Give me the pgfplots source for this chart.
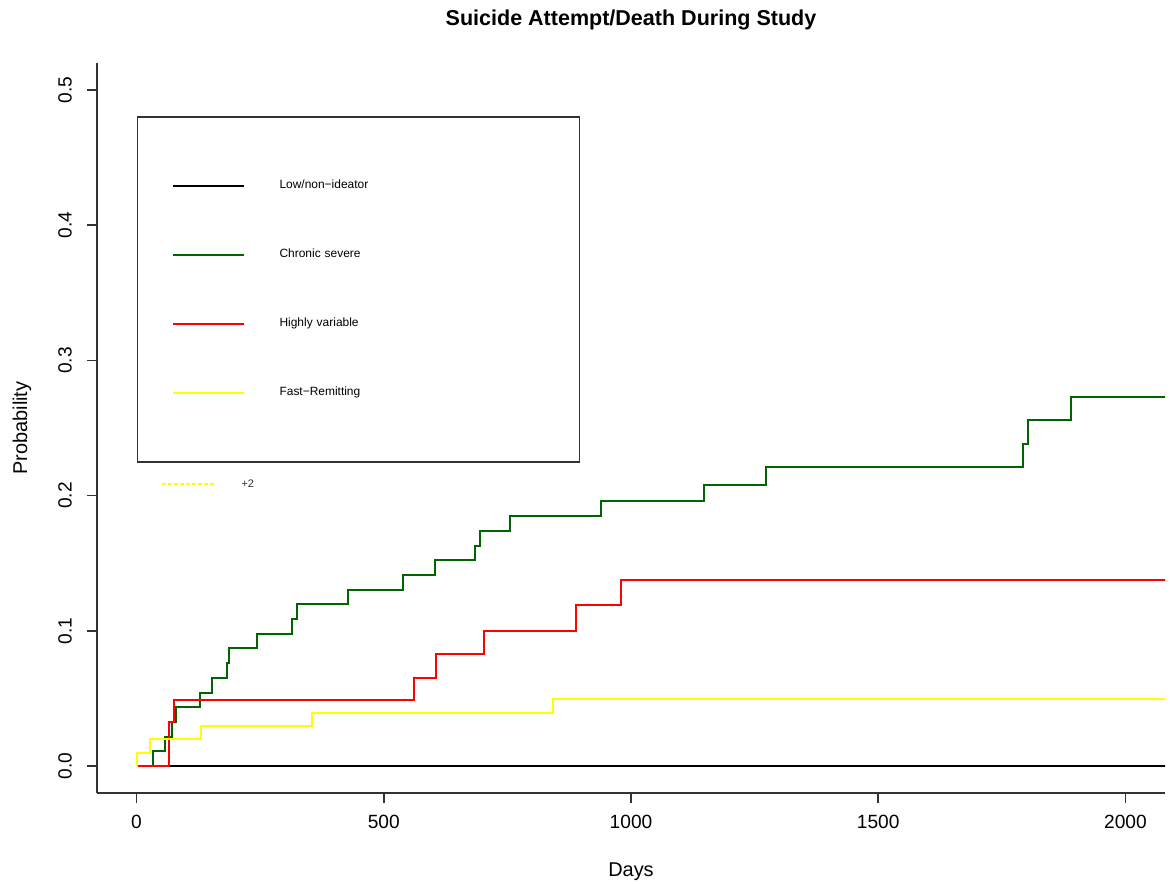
\documentclass[border=0pt]{standalone}
\usepackage{fontspec}
\setmainfont{Liberation Sans}
\usepackage{pgfplots}
\pgfplotsset{compat=1.18}
\definecolor{dkgreen}{HTML}{006400}
\definecolor{ryellow}{HTML}{FFFF00}
\definecolor{axgray}{HTML}{333333}

\begin{document}
\begin{tikzpicture}
\begin{axis}[
  scale only axis, width=534bp, height=365bp,
  xmin=-80, xmax=2080, ymin=-0.02, ymax=0.52,
  axis x line*=bottom, axis y line*=left,
  axis line style={axgray, line width=0.8bp, -},
  tick align=outside,
  tick style={axgray, line width=0.8bp},
  major tick length=5bp,
  xtick={0,500,1000,1500,2000},
  xticklabels={0,500,1000,1500,2000},
  ytick={0,0.1,0.2,0.3,0.4,0.5},
  yticklabels={0.0,0.1,0.2,0.3,0.4,0.5},
  ticklabel style={font=\fontsize{9.6}{11}\selectfont},
  xticklabel style={anchor=center, yshift=-9.5bp},
  yticklabel style={rotate=90, anchor=center, yshift=11bp},
  xlabel={Days}, ylabel={Probability},
  label style={font=\fontsize{9.6}{11}\selectfont},
  every axis x label/.style={at={(axis description cs:0.5,0)}, anchor=center, yshift=-39.5bp},
  every axis y label/.style={at={(axis description cs:0,0.5)}, anchor=center, rotate=90, yshift=37.5bp},
  title={Suicide Attempt/Death During Study},
  title style={font=\bfseries\fontsize{10.8}{13}\selectfont, at={(axis description cs:0.5,1)}, anchor=center, yshift=15.5bp},
  clip=true,
  legend style={
    at={(axis cs:0,0.4807)}, anchor=north west,
    draw=axgray, line width=0.8bp,
    inner xsep=17.5bp, inner ysep=17.25bp,
    row sep=0pt, column sep=17bp,
    font=\fontsize{6}{7}\selectfont,
    nodes={inner sep=0pt, text width=132.5bp, minimum height=34.5bp},
  },
  legend cell align=left,
  legend image code/.code={\draw[#1, line width=1.1bp] (0bp,0bp) -- (35.5bp,0bp);},
]
% Low/non-ideator
\addplot[black, line width=1bp, const plot] coordinates {(0,0) (2100,0)};
\addlegendentry{Low/non\textminus ideator}
% Chronic severe
\addplot[dkgreen, line width=1bp, const plot] coordinates {
(0,0) (33,0.0109) (57,0.0217) (72,0.0326) (80,0.0435) (128,0.0543)
(152,0.0652) (182,0.0761) (186,0.0870) (244,0.0978) (315,0.1087)
(324,0.1196) (428,0.1304) (539,0.1413) (604,0.1522) (684,0.1630)
(695,0.1739) (755,0.1848) (939,0.1957) (1147,0.2076) (1274,0.2215)
(1793,0.2385) (1803,0.2556) (1890,0.2726) (2100,0.2726)};
\addlegendentry{Chronic severe}
% Highly variable
\addplot[red, line width=1bp, const plot] coordinates {
(0,0) (66,0.0324) (76,0.0487) (562,0.0652) (605,0.0825) (703,0.1002)
(889,0.1188) (980,0.1375) (2100,0.1375)};
\addlegendentry{Highly variable}
% Fast-Remitting
\addplot[ryellow, line width=1bp, const plot] coordinates {
(0,0) (0.5,0.0098) (27,0.0196) (130,0.0294) (354,0.0392) (842,0.0494) (2100,0.0494)};
\addlegendentry{Fast\textminus Remitting}
% stray partial legend fragment
\addplot[ryellow, line width=1bp, dash pattern=on 2bp off 1bp, forget plot] coordinates {(52,0.2089) (156,0.2089)};
\node[font=\fontsize{5.5}{6}\selectfont, text=black!80] at (axis cs:225,0.2089) {+2};
\coordinate (sw) at (rel axis cs:0,0);
\coordinate (ne) at (rel axis cs:1,1);
\end{axis}
\pgfresetboundingbox
\path[use as bounding box] ([shift={(-48.5bp,-45.5bp)}]sw) rectangle ([shift={(2.5bp,31.5bp)}]ne);
\end{tikzpicture}
\end{document}
